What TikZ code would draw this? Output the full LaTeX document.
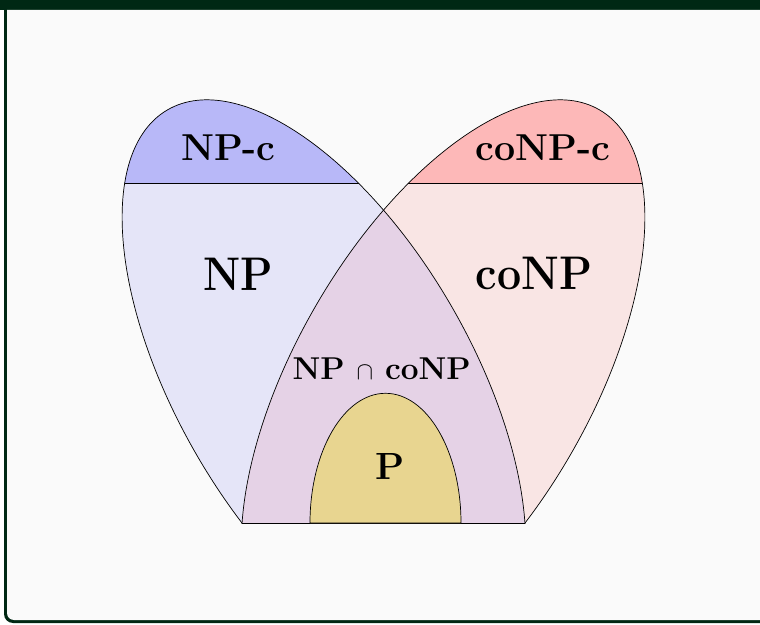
\documentclass[tikz,border=0pt]{standalone}
\usepackage{graphicx}
\definecolor{framecol}{HTML}{002814}
\definecolor{bgcol}{HTML}{FAFAFA}
\definecolor{npcol}{HTML}{E5E5F8}
\definecolor{conpcol}{HTML}{F9E5E4}
\definecolor{intcol}{HTML}{E5D2E6}
\definecolor{npccol}{HTML}{B8B8F8}
\definecolor{conpccol}{HTML}{FDB8B8}
\definecolor{pcol}{HTML}{E8D590}
\tikzset{
  outline/.style={draw=black, line width=0.7pt},
  lbl/.style={inner sep=0pt, anchor=base, text=black},
}
\def\NPell{(323.9,243.7) circle[x radius=312.4pt, y radius=147.5pt, rotate=120]}
\def\coNPell{(443.1,243.7) circle[x radius=312.4pt, y radius=147.5pt, rotate=60]}
\newcommand{\lblfont}[1]{\fontsize{#1}{#1}\bfseries}
\begin{document}
\begin{tikzpicture}[x=1pt,y=1pt]
\useasboundingbox (0,0) rectangle (760,624);
\fill[white] (0,0) rectangle (760,624);
% frame
\fill[framecol] (4,624) [rounded corners=9pt] -- (4,1) -- (790,1) [sharp corners] -- (790,624) -- cycle;
\fill[framecol] (0,614) rectangle (760,624);
\fill[bgcol] (7,614) [rounded corners=7pt] -- (7,4) -- (785,4) [sharp corners] -- (785,614) -- cycle;
% regions
\begin{scope}
  \clip (0,101) rectangle (760,624);
  \fill[npcol] \NPell;
  \fill[conpcol] \coNPell;
  \begin{scope}
    \clip \NPell;
    \fill[intcol] \coNPell;
  \end{scope}
  \begin{scope}
    \clip (0,440.7) rectangle (760,624);
    \fill[npccol] \NPell;
    \fill[conpccol] \coNPell;
  \end{scope}
  \draw[outline] \NPell;
  \draw[outline] \coNPell;
\end{scope}
\begin{scope}
  \clip \NPell;
  \draw[outline] (0,440.7) -- (383.5,440.7);
\end{scope}
\begin{scope}
  \clip \coNPell;
  \draw[outline] (383.5,440.7) -- (760,440.7);
\end{scope}
\draw[outline] (242,101) -- (525,101);
\fill[pcol] (310,101) arc[start angle=180, end angle=0, x radius=75.5pt, y radius=129.7pt] -- cycle;
\draw[outline] (310,101) arc[start angle=180, end angle=0, x radius=75.5pt, y radius=129.7pt] -- cycle;
% labels
\node[lbl, font=\lblfont{37.5}] (npc) at (228.4,463.3) {NP-c};
\node[lbl, font=\lblfont{47.2}] (np) at (238.4,333.3) {\scalebox{0.895}[1]{NP}};
\node[lbl, font=\lblfont{37.5}] (conpc) at (543,463) {coNP-c};
\node[lbl, font=\lblfont{47.2}] (conp) at (534.2,334) {\scalebox{0.91}[1]{coNP}};
\node[lbl, font=\lblfont{31.6}] (inter) at (381.7,244) {NP $\cap$ coNP};
\node[lbl, font=\lblfont{37.9}] (p) at (390,144.7) {P};
\end{tikzpicture}
\end{document}
